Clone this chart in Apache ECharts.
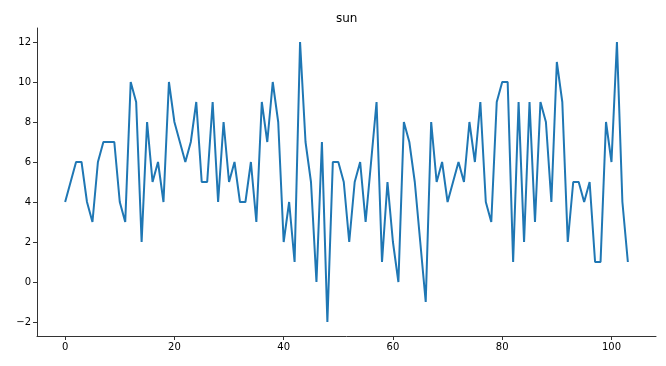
<!DOCTYPE html>
<html>
<head>
<meta charset="utf-8">
<script src="https://cdn.jsdelivr.net/npm/echarts@6/dist/echarts.min.js"></script>
<style>html,body{margin:0;padding:0;background:#fff}#c{width:666px;height:366px}</style>
</head>
<body>
<div id="c"></div>
<script>
const title = "sun";
const sunValues = [4,5,6,6,4,3,6,7,7,7,4,3,10,9,2,8,5,6,4,10,8,7,6,7,9,5,5,9,4,8,5,6,4,4,6,3,9,7,10,8,2,4,1,12,7,5,0,7,-2,6,6,5,2,5,6,3,6,9,1,5,2,0,8,7,5,2,-1,8,5,6,4,5,6,5,8,6,9,4,3,9,10,10,1,9,2,9,3,9,8,4,11,9,2,5,5,4,5,1,1,8,6,12,4,1];
const xTicks = [0,20,40,60,80,100];
const yTicks = [-2,0,2,4,6,8,10,12];

const data = sunValues.map((v,i)=>[i,v]);
const n = sunValues.length - 1;
const xm = n*0.05;
const ymin = Math.min(...sunValues), ymax = Math.max(...sunValues);
const ym = (ymax-ymin)*0.05;
const fmt = v => String(v).replace('-', '\u2212');

const chart = echarts.init(document.getElementById('c'), null, {renderer:'canvas'});
const labelStyle = {fontFamily:'DejaVu Sans', fontSize:10, color:'#000', formatter:fmt};
chart.setOption({
  animation:false,
  title:{text:title, left:331, top:8, textStyle:{fontFamily:'DejaVu Sans', fontSize:12, fontWeight:'normal', color:'#000'}},
  grid:{left:37, right:10, top:28, bottom:30, containLabel:false},
  xAxis:{type:'value', min:-xm, max:n+xm,
    axisLine:{show:true, onZero:false, lineStyle:{color:'#333', width:1}},
    axisTick:{show:true, length:4, customValues:xTicks, lineStyle:{color:'#333'}},
    axisLabel:Object.assign({customValues:xTicks, margin:6}, labelStyle),
    splitLine:{show:false}},
  yAxis:{type:'value', min:ymin-ym, max:ymax+ym,
    axisLine:{show:true, onZero:false, lineStyle:{color:'#333', width:1}},
    axisTick:{show:true, length:4, customValues:yTicks, lineStyle:{color:'#333'}},
    axisLabel:Object.assign({customValues:yTicks, margin:6}, labelStyle),
    splitLine:{show:false}},
  series:[{type:'line', data:data, showSymbol:false, lineStyle:{color:'#1f77b4', width:2}, itemStyle:{color:'#1f77b4'}}]
});
</script>
</body>
</html>
